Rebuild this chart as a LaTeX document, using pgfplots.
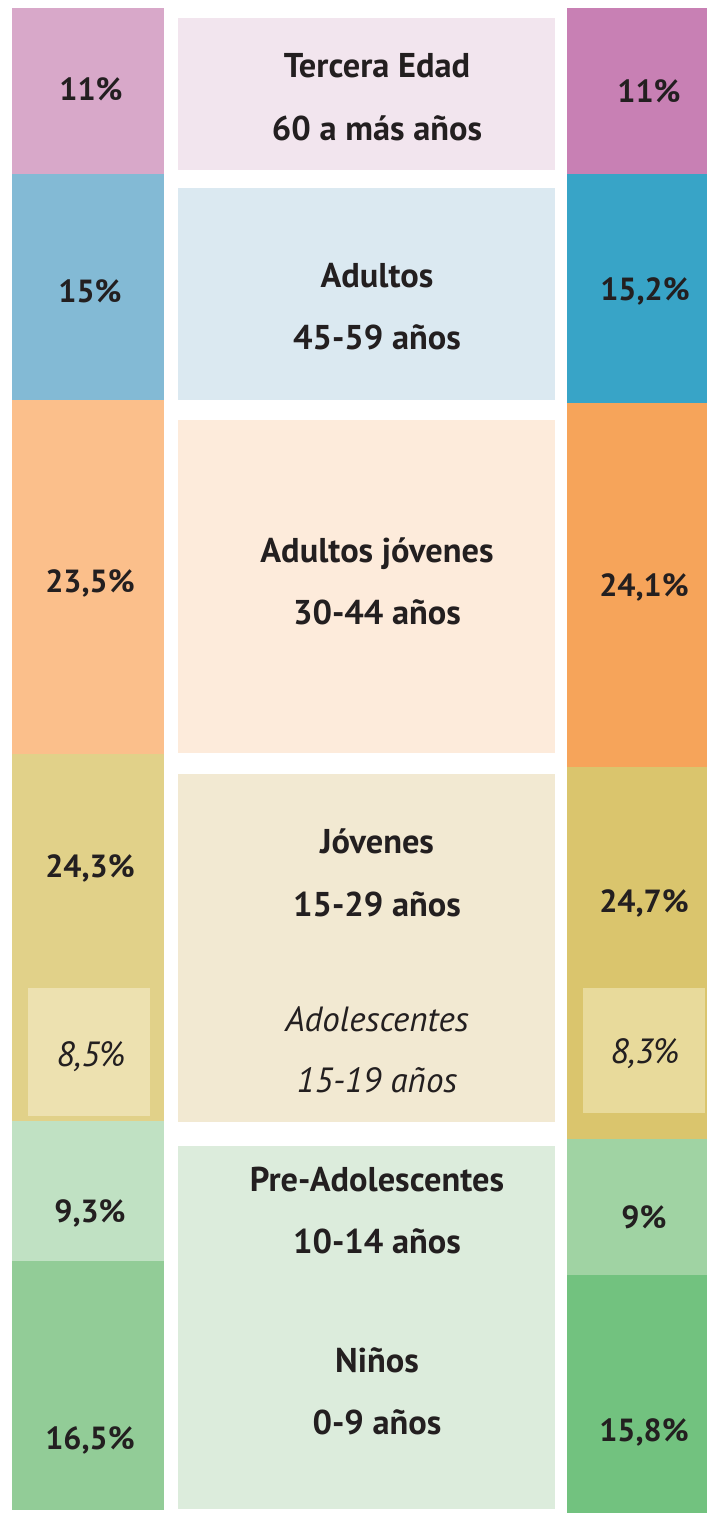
\documentclass[border=0pt]{standalone}
\usepackage{pgfplots}
\pgfplotsset{compat=1.18}
\usepackage{fontspec}
\setmainfont{PT Sans}
\definecolor{L1}{HTML}{D8A8C9}
\definecolor{R1}{HTML}{C880B4}
\definecolor{M1}{HTML}{F2E5EE}
\definecolor{L2}{HTML}{83BAD5}
\definecolor{R2}{HTML}{38A4C7}
\definecolor{M2}{HTML}{DBE9F1}
\definecolor{L3}{HTML}{FBBF8B}
\definecolor{R3}{HTML}{F6A45A}
\definecolor{M3}{HTML}{FDEBDB}
\definecolor{L4}{HTML}{E1D189}
\definecolor{R4}{HTML}{DAC56D}
\definecolor{M4}{HTML}{F2E9D2}
\definecolor{IL}{HTML}{EDE1B0}
\definecolor{IR}{HTML}{E8DA9B}
\definecolor{L5}{HTML}{C0E1C3}
\definecolor{R5}{HTML}{A0D3A3}
\definecolor{M5}{HTML}{DCECDC}
\definecolor{L6}{HTML}{92CC97}
\definecolor{R6}{HTML}{72C27F}
\definecolor{txt}{HTML}{231F20}
\pgfplotsset{base/.style={width=353.5pt, height=756.5pt, scale only axis,
  axis lines=none, xmin=0, xmax=707, y dir=reverse, clip=false,
  xtick=\empty, ytick=\empty},
  pct/.style={base, ymin=-0.53, ymax=99.8},
  pix/.style={base, ymin=0, ymax=1513}}
\tikzset{lab/.style={anchor=base, text=txt, inner sep=0pt,
  font=\bfseries\fontsize{16}{18}\selectfont},
  mlab/.style={anchor=base, text=txt, inner sep=0pt,
  font=\bfseries\fontsize{17.2}{19}\selectfont},
  ilab/.style={anchor=base, text=txt, inner sep=0pt,
  font=\itshape\fontsize{17.5}{19}\selectfont}}
\begin{document}
\begin{tikzpicture}
% left column (%)
\begin{axis}[pct, ybar stacked, bar width=152]
\addplot[fill=L1, draw=none] coordinates {(88,11)};
\addplot[fill=L2, draw=none] coordinates {(88,15)};
\addplot[fill=L3, draw=none] coordinates {(88,23.5)};
\addplot[fill=L4, draw=none] coordinates {(88,24.3)};
\addplot[fill=L5, draw=none] coordinates {(88,9.3)};
\addplot[fill=L6, draw=none] coordinates {(88,16.5)};
\end{axis}
% right column (%)
\begin{axis}[pct, ybar stacked, bar width=140]
\addplot[fill=R1, draw=none] coordinates {(637,11)};
\addplot[fill=R2, draw=none] coordinates {(637,15.2)};
\addplot[fill=R3, draw=none] coordinates {(637,24.1)};
\addplot[fill=R4, draw=none] coordinates {(637,24.7)};
\addplot[fill=R5, draw=none] coordinates {(637,9)};
\addplot[fill=R6, draw=none] coordinates {(637,15.8)};
\end{axis}
% adolescentes insets (%)
\begin{axis}[pct]
\addplot[fill=IL, draw=none] coordinates {(28,65.0) (150,65.0) (150,73.5) (28,73.5)} -- cycle;
\addplot[fill=IR, draw=none] coordinates {(583,65.0) (705,65.0) (705,73.3) (583,73.3)} -- cycle;
\end{axis}
% labels
\begin{axis}[pix]
\path (axis cs:0,0) rectangle (axis cs:707,1513);
\fill[M1] (axis cs:178,18) rectangle (axis cs:555,170);
\fill[M2] (axis cs:178,188) rectangle (axis cs:555,400);
\fill[M3] (axis cs:178,420) rectangle (axis cs:555,753);
\fill[M4] (axis cs:178,774) rectangle (axis cs:555,1122);
\fill[M5] (axis cs:178,1146) rectangle (axis cs:555,1509);
\node[mlab] at (axis cs:377,78) {Tercera Edad};
\node[mlab] at (axis cs:377,141) {60 a más años};
\node[mlab] at (axis cs:377,287) {Adultos};
\node[mlab] at (axis cs:377,349) {45-59 años};
\node[mlab] at (axis cs:377,562) {Adultos jóvenes};
\node[mlab] at (axis cs:377,624) {30-44 años};
\node[mlab] at (axis cs:377,853) {Jóvenes};
\node[mlab] at (axis cs:377,916) {15-29 años};
\node[ilab] at (axis cs:377,1031) {Adolescentes};
\node[ilab] at (axis cs:377,1092) {15-19 años};
\node[mlab] at (axis cs:377,1191) {Pre-Adolescentes};
\node[mlab] at (axis cs:377,1253) {10-14 años};
\node[mlab] at (axis cs:377,1372) {Niños};
\node[mlab] at (axis cs:377,1434) {0-9 años};
% left values
\node[lab] at (axis cs:91,100) {11\%};
\node[lab] at (axis cs:90,302) {15\%};
\node[lab] at (axis cs:90,592) {23,5\%};
\node[lab] at (axis cs:90,877) {24,3\%};
\node[ilab] at (axis cs:91,1066) {8,5\%};
\node[lab] at (axis cs:90,1222) {9,3\%};
\node[lab] at (axis cs:90,1449) {16,5\%};
% right values
\node[lab] at (axis cs:649,103) {11\%};
\node[lab] at (axis cs:645,300) {15,2\%};
\node[lab] at (axis cs:644,596) {24,1\%};
\node[lab] at (axis cs:644,912) {24,7\%};
\node[ilab] at (axis cs:645,1063) {8,3\%};
\node[lab] at (axis cs:644,1228) {9\%};
\node[lab] at (axis cs:644,1441) {15,8\%};
\end{axis}
\end{tikzpicture}
\end{document}
